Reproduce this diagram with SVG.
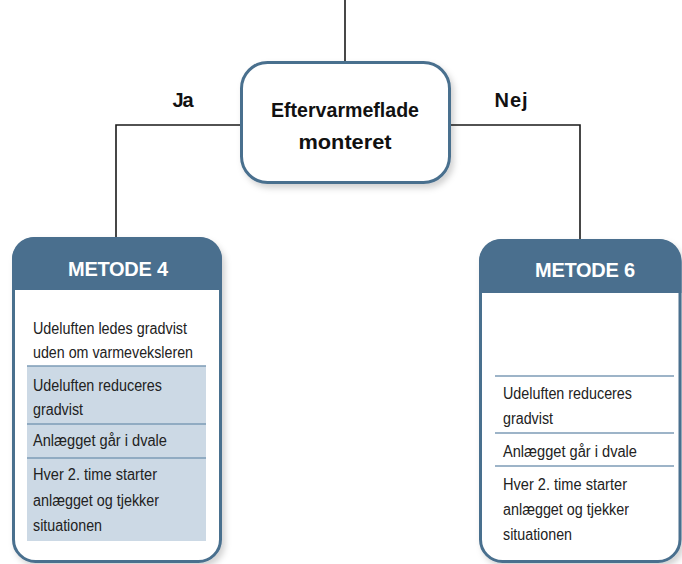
<svg xmlns="http://www.w3.org/2000/svg" width="682" height="564" viewBox="0 0 682 564">
<defs>
<filter id="sh" x="-20%" y="-20%" width="140%" height="140%">
<feDropShadow dx="3" dy="4" stdDeviation="3" flood-color="#000" flood-opacity="0.18"/>
</filter>
</defs>
<style>
.ln{stroke:#1a1a1a;stroke-width:1.6;fill:none}
.box{fill:#fff;stroke:#4a6f8e;stroke-width:3}
.hdr{fill:#4a6f8e}
.shade{fill:#ccd9e5}
.sep{stroke:#7d9bb6;stroke-width:1.5}
.lbl{font-family:"Liberation Sans",Arial,sans-serif;font-weight:bold;font-size:20px;fill:#111}
.ht{font-family:"Liberation Sans",Arial,sans-serif;font-weight:bold;font-size:20px;fill:#fff;text-anchor:middle}
.bt{font-family:"Liberation Sans",Arial,sans-serif;font-size:16px;fill:#222}
</style>
<rect width="682" height="564" fill="#fff"/>
<g id="connectors">
<line class="ln" x1="345" y1="0" x2="345" y2="62"/>
<polyline class="ln" points="241,125 116,125 116,238"/>
<polyline class="ln" points="450,125 580,125 580,240"/>
<text class="lbl" x="183" y="107" text-anchor="middle" textLength="21">Ja</text>
<text class="lbl" x="511" y="107" text-anchor="middle" textLength="33">Nej</text>
</g>
<g id="decision">
<rect class="box" x="241.5" y="62.5" width="208" height="120" rx="26" filter="url(#sh)"/>
<text class="lbl" x="345" y="117" text-anchor="middle" textLength="148" lengthAdjust="spacingAndGlyphs">Eftervarmeflade</text>
<text class="lbl" x="345" y="149" text-anchor="middle" textLength="93" lengthAdjust="spacingAndGlyphs">monteret</text>
</g>
<g id="metode4">
<rect class="box" x="13.5" y="238.5" width="207" height="323" rx="22" filter="url(#sh)"/>
<path class="hdr" d="M12,290 V260 A22,22 0 0 1 34,237 H200 A22,22 0 0 1 222,260 V290 Z"/>
<rect class="shade" x="27" y="366" width="179" height="175"/>
<line class="sep" x1="27" y1="366" x2="206" y2="366"/>
<line class="sep" x1="27" y1="424" x2="206" y2="424"/>
<line class="sep" x1="27" y1="458" x2="206" y2="458"/>
<text class="ht" x="118" y="276" textLength="100">METODE 4</text>
<text class="bt" x="33" y="334" textLength="154" lengthAdjust="spacingAndGlyphs">Udeluften ledes gradvist</text>
<text class="bt" x="33" y="358" textLength="160" lengthAdjust="spacingAndGlyphs">uden om varmeveksleren</text>
<text class="bt" x="33" y="391" textLength="129" lengthAdjust="spacingAndGlyphs">Udeluften reduceres</text>
<text class="bt" x="33" y="415" textLength="50" lengthAdjust="spacingAndGlyphs">gradvist</text>
<text class="bt" x="33" y="446" textLength="134" lengthAdjust="spacingAndGlyphs">Anlægget går i dvale</text>
<text class="bt" x="33" y="480" textLength="124" lengthAdjust="spacingAndGlyphs">Hver 2. time starter</text>
<text class="bt" x="33" y="506" textLength="126" lengthAdjust="spacingAndGlyphs">anlægget og tjekker</text>
<text class="bt" x="33" y="531" textLength="69" lengthAdjust="spacingAndGlyphs">situationen</text>
</g>
<g id="metode6">
<rect class="box" x="480.5" y="240.5" width="199.5" height="321" rx="22" filter="url(#sh)"/>
<path class="hdr" d="M479,293 V262 A22,22 0 0 1 501,239 H659.5 A22,22 0 0 1 681.5,262 V293 Z"/>
<line class="sep" x1="495" y1="376" x2="674" y2="376"/>
<line class="sep" x1="495" y1="433" x2="674" y2="433"/>
<line class="sep" x1="495" y1="466" x2="674" y2="466"/>
<text class="ht" x="585" y="277" textLength="100">METODE 6</text>
<text class="bt" x="503" y="399" textLength="129" lengthAdjust="spacingAndGlyphs">Udeluften reduceres</text>
<text class="bt" x="503" y="424" textLength="50" lengthAdjust="spacingAndGlyphs">gradvist</text>
<text class="bt" x="503" y="457" textLength="134" lengthAdjust="spacingAndGlyphs">Anlægget går i dvale</text>
<text class="bt" x="503" y="490" textLength="124" lengthAdjust="spacingAndGlyphs">Hver 2. time starter</text>
<text class="bt" x="503" y="515" textLength="126" lengthAdjust="spacingAndGlyphs">anlægget og tjekker</text>
<text class="bt" x="503" y="540" textLength="69" lengthAdjust="spacingAndGlyphs">situationen</text>
</g>
</svg>
